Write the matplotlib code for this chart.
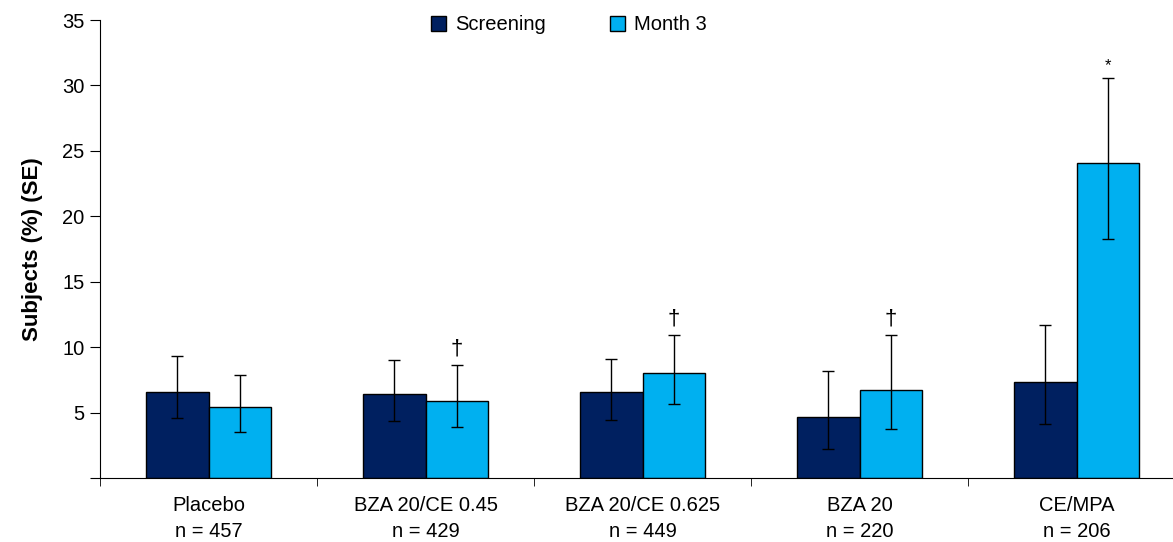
import matplotlib.pyplot as plt
import numpy as np

plt.rcParams['font.family'] = ['Liberation Sans', 'DejaVu Sans']

groups = ['Placebo\nn = 457', 'BZA 20/CE 0.45\nn = 429', 'BZA 20/CE 0.625\nn = 449',
          'BZA 20\nn = 220', 'CE/MPA\nn = 206']

screening = [6.6, 6.4, 6.55, 4.65, 7.3]
screening_hi = [9.3, 9.0, 9.1, 8.2, 11.7]
screening_lo = [4.6, 4.35, 4.45, 2.25, 4.1]

month3 = [5.45, 5.9, 8.0, 6.7, 24.1]
month3_hi = [7.9, 8.6, 10.9, 10.9, 30.55]
month3_lo = [3.55, 3.9, 5.65, 3.75, 18.3]

marks = ['', '\u2020', '\u2020', '\u2020', '*']

fig = plt.figure(figsize=(11.73, 5.42), dpi=100)
ax = fig.add_axes([100/1173, 1-478/542, 1-100/1173, 458/542])

x = np.arange(len(groups))
w = 0.29

err_s = [np.array(screening) - np.array(screening_lo), np.array(screening_hi) - np.array(screening)]
err_m = [np.array(month3) - np.array(month3_lo), np.array(month3_hi) - np.array(month3)]

ax.bar(x - w/2, screening, w, color='#002060', edgecolor='black', linewidth=1,
       label='Screening', yerr=err_s, capsize=4.5,
       error_kw=dict(elinewidth=1, capthick=1, ecolor='black'))
ax.bar(x + w/2, month3, w, color='#00B0F0', edgecolor='black', linewidth=1,
       label='Month 3', yerr=err_m, capsize=4.5,
       error_kw=dict(elinewidth=1, capthick=1, ecolor='black'))

for i, m in enumerate(marks):
    if m:
        ax.annotate(m, (x[i] + w/2, month3_hi[i]), xytext=(0, 4), textcoords='offset points',
                    ha='center', va='bottom', fontsize=16 if m != '*' else 12)

ax.set_xlim(-0.5, 4.5 - 12/217)
ax.set_ylim(0, 35)
ax.set_yticks([0, 5, 10, 15, 20, 25, 30, 35])
ax.set_yticklabels(['', '5', '10', '15', '20', '25', '30', '35'], fontsize=14.5)
ax.set_xticks(x)
ax.set_xticklabels(groups, fontsize=14.5, linespacing=1.45)
ax.tick_params(axis='x', which='major', length=0, pad=13)
ax.set_xticks(np.arange(len(groups)) - 0.5, minor=True)
ax.tick_params(axis='x', which='minor', length=6, direction='out')
ax.tick_params(axis='y', length=7, direction='out', pad=4)

ax.spines['top'].set_visible(False)
ax.spines['right'].set_visible(False)

ax.set_ylabel('Subjects (%) (SE)', fontsize=16, fontweight='bold', labelpad=14)

ax.legend(loc='upper center', bbox_to_anchor=(0.437, 1.05), ncol=2, frameon=False,
          fontsize=14.5, handlelength=0.75, handleheight=0.75, columnspacing=3.2, handletextpad=0.45)

fig.savefig('out.png', dpi=100)
